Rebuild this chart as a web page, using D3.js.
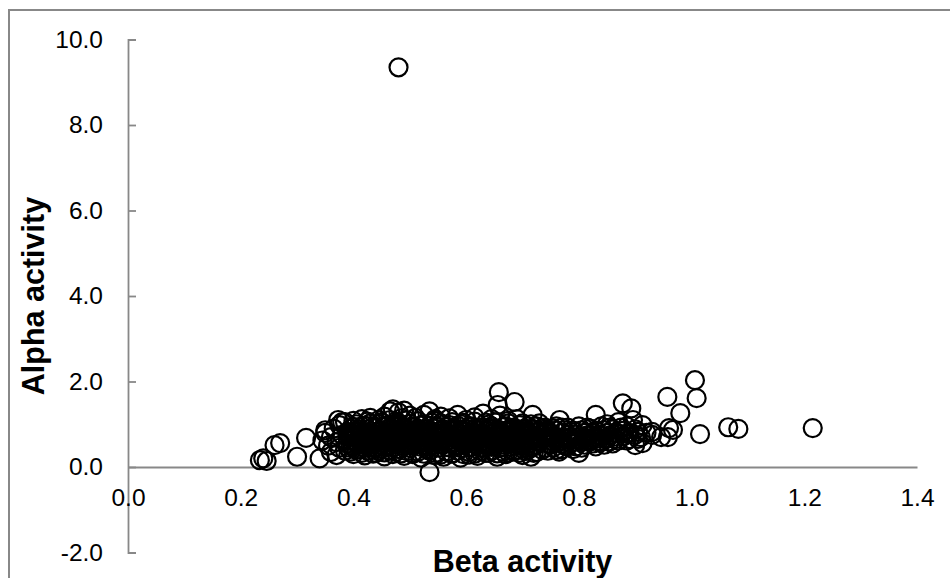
<!DOCTYPE html>
<html>
<head>
<meta charset="utf-8">
<script src="https://cdn.jsdelivr.net/npm/d3@7"></script>
<style>
  body { margin: 0; background: #fff; }
  svg { display: block; }
</style>
</head>
<body>
<div id="container"></div>
<script>
/* CONSTANTS AND GLOBALS */
const width = 950,
  height = 578

// axis ticks
const xTicks = [0, 0.2, 0.4, 0.6, 0.8, 1.0, 1.2, 1.4]
const yTicks = [-2, 0, 2, 4, 6, 8, 10]
const xTitle = 'Beta activity'
const yTitle = 'Alpha activity'

/* DATA : [beta, alpha] pairs */
// sparse points on the left end of the cloud
const leftPoints = [
  [0.234, 0.16], [0.24, 0.2], [0.246, 0.14], [0.26, 0.51], [0.27, 0.56],
  [0.30, 0.24], [0.316, 0.68], [0.34, 0.2], [0.35, 0.86], [0.345, 0.62],
  [0.35, 0.80], [0.355, 0.50], [0.36, 0.70], [0.365, 0.90], [0.37, 0.58],
  [0.375, 0.45], [0.38, 0.75], [0.38, 1.05], [0.373, 1.1], [0.36, 0.35],
  [0.37, 0.28], [0.385, 0.38]
]

// dense core of the cloud
const corePoints = [
  [0.39, 0.55], [0.39, 0.82], [0.39, 0.46], [0.39, 0.71],
  [0.40, 0.63], [0.40, 0.94], [0.40, 0.48], [0.40, 0.77],
  [0.41, 0.52], [0.41, 0.88], [0.41, 0.69], [0.41, 0.41],
  [0.42, 0.75], [0.42, 0.58], [0.42, 0.97], [0.42, 0.44],
  [0.43, 0.66], [0.43, 0.83], [0.43, 0.51], [0.43, 1.02],
  [0.44, 0.72], [0.44, 0.45], [0.44, 0.91], [0.44, 0.60],
  [0.45, 0.57], [0.45, 0.86], [0.45, 0.74], [0.45, 0.43], [0.45, 1.05],
  [0.46, 0.68], [0.46, 0.95], [0.46, 0.50], [0.46, 0.80],
  [0.47, 0.62], [0.47, 0.77], [0.47, 0.99], [0.47, 0.46], [0.47, 0.88],
  [0.48, 0.55], [0.48, 0.84], [0.48, 0.71], [0.48, 1.03], [0.48, 0.42],
  [0.49, 0.65], [0.49, 0.92], [0.49, 0.48], [0.49, 0.79],
  [0.50, 0.58], [0.50, 0.87], [0.50, 0.73], [0.50, 0.44], [0.50, 1.01],
  [0.51, 0.69], [0.51, 0.52], [0.51, 0.93], [0.51, 0.81],
  [0.52, 0.61], [0.52, 0.78], [0.52, 0.47], [0.52, 0.97], [0.52, 0.86],
  [0.53, 0.56], [0.53, 0.74], [0.53, 0.90], [0.53, 0.43],
  [0.54, 0.66], [0.54, 0.83], [0.54, 0.50], [0.54, 1.04],
  [0.55, 0.59], [0.55, 0.76], [0.55, 0.94], [0.55, 0.45], [0.55, 0.70],
  [0.56, 0.64], [0.56, 0.88], [0.56, 0.53], [0.56, 0.80],
  [0.57, 0.57], [0.57, 0.73], [0.57, 0.98], [0.57, 0.46],
  [0.58, 0.68], [0.58, 0.85], [0.58, 0.51], [0.58, 0.91],
  [0.59, 0.60], [0.59, 0.77], [0.59, 0.44], [0.59, 1.00], [0.59, 0.84],
  [0.60, 0.66], [0.60, 0.54], [0.60, 0.89], [0.60, 0.72],
  [0.61, 0.58], [0.61, 0.81], [0.61, 0.47], [0.61, 0.95],
  [0.62, 0.70], [0.62, 0.63], [0.62, 0.87], [0.62, 0.50],
  [0.63, 0.55], [0.63, 0.76], [0.63, 0.93], [0.63, 0.45],
  [0.64, 0.67], [0.64, 0.84], [0.64, 0.52], [0.64, 0.99],
  [0.65, 0.60], [0.65, 0.79], [0.65, 0.48], [0.65, 0.90],
  [0.66, 0.71], [0.66, 0.56], [0.66, 0.86], [0.66, 0.44],
  [0.67, 0.64], [0.67, 0.82], [0.67, 0.51], [0.67, 0.95],
  [0.68, 0.58], [0.68, 0.75], [0.68, 0.90], [0.68, 0.47],
  [0.69, 0.68], [0.69, 0.53], [0.69, 0.84], [0.69, 0.62],
  [0.70, 0.61], [0.70, 0.78], [0.70, 0.49], [0.70, 0.88]
]

// more of the core, between the columns above
const coreFillPoints = [
  [0.395, 0.36], [0.395, 0.62], [0.395, 0.89], [0.395, 0.74], [0.395, 0.50],
  [0.405, 0.40], [0.405, 0.70], [0.405, 1.00], [0.405, 0.57], [0.405, 0.84],
  [0.415, 0.33], [0.415, 0.60], [0.415, 0.80], [0.415, 0.95], [0.415, 0.47],
  [0.425, 0.38], [0.425, 0.68], [0.425, 0.88], [0.425, 1.06], [0.425, 0.53],
  [0.435, 0.31], [0.435, 0.58], [0.435, 0.76], [0.435, 0.94], [0.435, 0.45],
  [0.445, 0.37], [0.445, 0.66], [0.445, 0.84], [0.445, 1.01], [0.445, 0.52],
  [0.455, 0.34], [0.455, 0.62], [0.455, 0.80], [0.455, 0.97], [0.455, 0.48],
  [0.465, 0.39], [0.465, 0.57], [0.465, 0.73], [0.465, 0.92], [0.465, 1.10],
  [0.475, 0.35], [0.475, 0.52], [0.475, 0.69], [0.475, 0.85], [0.475, 1.06],
  [0.485, 0.32], [0.485, 0.61], [0.485, 0.78], [0.485, 0.96], [0.485, 1.14],
  [0.495, 0.37], [0.495, 0.55], [0.495, 0.70], [0.495, 0.86], [0.495, 1.09],
  [0.505, 0.30], [0.505, 0.63], [0.505, 0.79], [0.505, 0.95], [0.505, 0.50],
  [0.515, 0.36], [0.515, 0.58], [0.515, 0.75], [0.515, 0.88], [0.515, 1.07],
  [0.525, 0.31], [0.525, 0.51], [0.525, 0.68], [0.525, 0.83], [0.525, 1.00],
  [0.535, 0.38], [0.535, 0.62], [0.535, 0.79], [0.535, 0.96], [0.535, 0.48],
  [0.545, 0.33], [0.545, 0.57], [0.545, 0.73], [0.545, 0.90], [0.545, 1.08],
  [0.555, 0.29], [0.555, 0.52], [0.555, 0.67], [0.555, 0.84], [0.555, 1.02],
  [0.565, 0.36], [0.565, 0.60], [0.565, 0.77], [0.565, 0.93], [0.565, 0.47],
  [0.575, 0.32], [0.575, 0.55], [0.575, 0.70], [0.575, 0.87], [0.575, 1.05],
  [0.585, 0.38], [0.585, 0.63], [0.585, 0.80], [0.585, 0.97], [0.585, 0.49],
  [0.595, 0.30], [0.595, 0.53], [0.595, 0.68], [0.595, 0.85], [0.595, 1.03],
  [0.605, 0.35], [0.605, 0.60], [0.605, 0.78], [0.605, 0.94], [0.605, 0.46],
  [0.615, 0.31], [0.615, 0.55], [0.615, 0.71], [0.615, 0.88], [0.615, 1.06],
  [0.625, 0.37], [0.625, 0.59], [0.625, 0.76], [0.625, 0.92], [0.625, 0.45],
  [0.635, 0.33], [0.635, 0.52], [0.635, 0.69], [0.635, 0.86], [0.635, 1.04],
  [0.645, 0.38], [0.645, 0.61], [0.645, 0.78], [0.645, 0.95], [0.645, 0.47],
  [0.655, 0.32], [0.655, 0.55], [0.655, 0.72], [0.655, 0.88], [0.655, 1.05],
  [0.665, 0.36], [0.665, 0.62], [0.665, 0.77], [0.665, 0.93], [0.665, 0.48],
  [0.675, 0.34], [0.675, 0.56], [0.675, 0.70], [0.675, 0.87], [0.675, 1.02],
  [0.685, 0.39], [0.685, 0.60], [0.685, 0.76], [0.685, 0.92], [0.685, 0.50],
  [0.695, 0.33], [0.695, 0.54], [0.695, 0.71], [0.695, 0.86], [0.695, 0.98],
  [0.705, 0.37], [0.705, 0.59], [0.705, 0.74], [0.705, 0.90], [0.705, 0.45]
]

// ragged top and bottom edges of the core
const edgePoints = [
  [0.375, 0.98], [0.385, 1.05], [0.40, 1.08], [0.415, 1.12], [0.43, 1.15],
  [0.445, 1.10], [0.455, 1.18], [0.465, 1.30], [0.47, 1.35], [0.48, 1.28],
  [0.49, 1.32], [0.50, 1.20], [0.51, 1.15], [0.525, 1.22], [0.535, 1.30],
  [0.545, 1.12], [0.555, 1.18], [0.57, 1.14], [0.585, 1.22], [0.60, 1.10],
  [0.615, 1.16], [0.63, 1.25], [0.645, 1.12], [0.66, 1.20], [0.675, 1.08],
  [0.69, 1.12], [0.70, 1.02], [0.715, 1.00],
  [0.40, 0.30], [0.42, 0.27], [0.44, 0.33], [0.455, 0.25], [0.47, 0.30],
  [0.49, 0.26], [0.505, 0.33], [0.52, 0.22], [0.535, -0.12], [0.545, 0.28],
  [0.56, 0.24], [0.575, 0.31], [0.59, 0.22], [0.605, 0.29], [0.62, 0.26],
  [0.64, 0.33], [0.655, 0.24], [0.67, 0.30], [0.685, 0.36], [0.70, 0.28],
  [0.715, 0.24], [0.72, 0.33]
]

// thinner right part of the cloud
const rightPoints = [
  [0.71, 0.55], [0.71, 0.80], [0.71, 0.95], [0.71, 0.40],
  [0.72, 0.65], [0.72, 0.48], [0.72, 0.88], [0.718, 1.22],
  [0.725, 0.72], [0.725, 0.35],
  [0.73, 0.58], [0.73, 0.85], [0.73, 1.02],
  [0.74, 0.68], [0.74, 0.45], [0.74, 0.92],
  [0.75, 0.52], [0.75, 0.78], [0.75, 0.62],
  [0.76, 0.70], [0.76, 0.40], [0.76, 0.95], [0.76, 0.85],
  [0.765, 0.36], [0.766, 1.10], [0.765, 0.60],
  [0.77, 0.55], [0.77, 0.80],
  [0.78, 0.66], [0.78, 0.48], [0.78, 0.92], [0.78, 0.75],
  [0.79, 0.58], [0.79, 0.85], [0.79, 0.42],
  [0.80, 0.70], [0.80, 0.33], [0.80, 0.62], [0.80, 0.95],
  [0.81, 0.52], [0.81, 0.80], [0.81, 0.68],
  [0.82, 0.75], [0.82, 0.60], [0.82, 0.90],
  [0.83, 0.65], [0.83, 1.22], [0.83, 0.85], [0.83, 0.48],
  [0.84, 0.72], [0.84, 0.58], [0.84, 0.95],
  [0.85, 0.80], [0.85, 0.66], [0.85, 1.00],
  [0.86, 0.70], [0.86, 0.88], [0.86, 0.55],
  [0.87, 0.78], [0.87, 1.05], [0.87, 0.62],
  [0.878, 1.49], [0.875, 0.92],
  [0.88, 0.72], [0.88, 0.85],
  [0.893, 1.37], [0.89, 0.80], [0.89, 0.65],
  [0.896, 1.10], [0.90, 0.51],
  [0.90, 0.75], [0.90, 0.88],
  [0.913, 0.98], [0.91, 0.70], [0.913, 0.56],
  [0.92, 0.80], [0.93, 0.75], [0.93, 0.82], [0.946, 0.70]
]

const rightFillPoints = [
  [0.715, 0.62], [0.715, 0.74], [0.715, 0.88], [0.715, 0.46],
  [0.725, 0.52], [0.725, 0.82], [0.725, 0.95], [0.725, 0.60],
  [0.735, 0.40], [0.735, 0.66], [0.735, 0.78], [0.735, 0.90],
  [0.745, 0.55], [0.745, 0.72], [0.745, 0.85], [0.745, 0.38],
  [0.755, 0.46], [0.755, 0.66], [0.755, 0.90], [0.755, 0.58],
  [0.77, 0.42], [0.77, 0.68], [0.77, 0.92], [0.77, 0.62],
  [0.775, 0.50], [0.775, 0.86],
  [0.785, 0.55], [0.785, 0.70], [0.785, 0.82],
  [0.795, 0.65], [0.795, 0.76], [0.795, 0.48],
  [0.805, 0.58], [0.805, 0.86], [0.805, 0.45],
  [0.815, 0.62], [0.815, 0.74], [0.815, 0.92],
  [0.825, 0.55], [0.825, 0.68], [0.825, 0.80],
  [0.835, 0.60], [0.835, 0.76],
  [0.845, 0.66], [0.845, 0.86], [0.845, 0.52],
  [0.855, 0.74], [0.855, 0.60], [0.855, 0.92],
  [0.865, 0.65], [0.865, 0.80],
  [0.885, 0.62], [0.885, 0.78], [0.885, 0.95],
  [0.905, 0.66], [0.905, 0.82]
]

// isolated points
const outlierPoints = [
  [0.48, 9.35], [0.658, 1.75], [0.656, 1.45], [0.686, 1.52],
  [0.957, 1.64], [0.958, 0.70], [0.96, 0.91], [0.967, 0.87], [0.98, 1.26],
  [1.006, 2.03], [1.009, 1.61], [1.015, 0.77], [1.065, 0.93], [1.083, 0.89],
  [1.215, 0.91]
]

const allPoints = [
  ...leftPoints, ...corePoints, ...coreFillPoints, ...edgePoints,
  ...rightPoints, ...rightFillPoints, ...outlierPoints
]

/* SCALES */
const xScale = d3.scaleLinear()
  .domain([0, 1.4])
  .range([128, 917])

const yScale = d3.scaleLinear()
  .domain([-2, 10])
  .range([552.5, 39.5])

/* SVG */
const svg = d3.select('#container')
  .append('svg')
  .attr('width', width)
  .attr('height', height)
  .style('font-family', 'Arial, "Liberation Sans", sans-serif')

// chart frame (runs off the right and bottom of the picture)
svg.append('rect')
  .attr('x', 9)
  .attr('y', 10)
  .attr('width', 980)
  .attr('height', 620)
  .attr('fill', 'none')
  .attr('stroke', '#888')
  .attr('stroke-width', 2)

/* AXES */
const axisColor = '#888'
// excel style labels, plain hyphen for the minus sign
const fmt = d => d3.format('.1f')(d).replace('\u2212', '-')

const yAxis = d3.axisLeft(yScale)
  .tickValues(yTicks)
  .tickFormat(fmt)
  .tickSize(-8)
  .tickPadding(25)

const xAxis = d3.axisBottom(xScale)
  .tickValues(xTicks)
  .tickFormat(fmt)
  .tickSize(0)
  .tickPadding(22)

const yAxisGroup = svg.append('g')
  .attr('transform', `translate(${xScale(0)}, 0)`)
  .call(yAxis)

const xAxisGroup = svg.append('g')
  .attr('transform', `translate(0, ${yScale(0)})`)
  .call(xAxis)

for (const g of [yAxisGroup, xAxisGroup]) {
  g.attr('font-family', null).attr('font-size', null)
  g.selectAll('path, line').attr('stroke', axisColor).attr('stroke-width', 1.8)
  g.selectAll('text')
    .attr('fill', '#000')
    .style('font-size', '24.5px')
}

// axis titles
svg.append('text')
  .attr('x', (xScale(0) + xScale(1.4)) / 2)
  .attr('y', 572)
  .attr('text-anchor', 'middle')
  .style('font-size', '30.5px')
  .style('font-weight', 'bold')
  .text(xTitle)

svg.append('text')
  .attr('transform', `translate(44, ${(yScale(10) + yScale(-2)) / 2}) rotate(-90)`)
  .attr('text-anchor', 'middle')
  .style('font-size', '30.5px')
  .style('font-weight', 'bold')
  .text(yTitle)

/* MARKERS */
svg.append('g')
  .selectAll('circle')
  .data(allPoints)
  .join('circle')
  .attr('cx', d => xScale(d[0]))
  .attr('cy', d => yScale(d[1]))
  .attr('r', 9)
  .attr('fill', 'none')
  .attr('stroke', '#000')
  .attr('stroke-width', 2.2)
</script>
</body>
</html>
